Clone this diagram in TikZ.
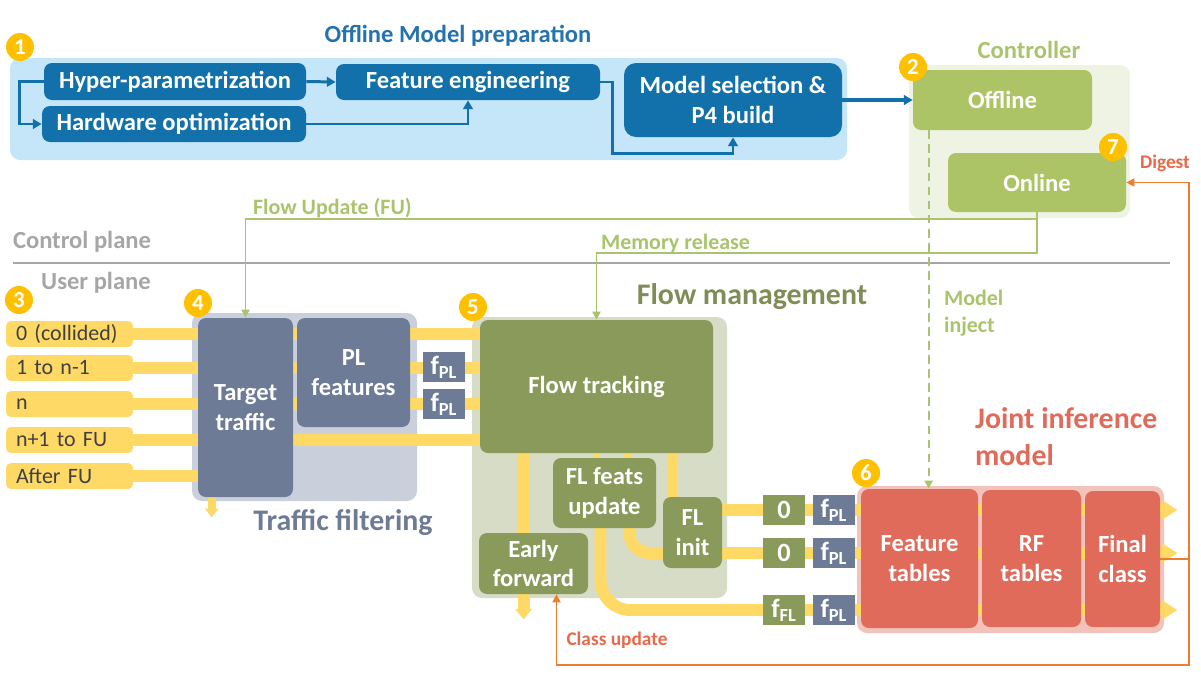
\documentclass[tikz,border=0pt]{standalone}
\usepackage{fontspec}
\setmainfont{Carlito}
\usetikzlibrary{arrows.meta,calc}

\definecolor{darkblue}{HTML}{1271AB}
\definecolor{lightblue}{HTML}{C5E6F8}
\definecolor{titleblue}{HTML}{2472AE}
\definecolor{badgegold}{HTML}{FFC000}
\definecolor{ctrlgreen}{HTML}{ADC466}
\definecolor{ctrlbg}{HTML}{EEF3E3}
\definecolor{ctrltext}{HTML}{A9C46C}
\definecolor{planegray}{HTML}{A6A6A6}
\definecolor{flowyellow}{HTML}{FFD966}
\definecolor{inputtext}{HTML}{404040}
\definecolor{slate}{HTML}{6D7B97}
\definecolor{slatebg}{HTML}{C9D0DC}
\definecolor{olive}{HTML}{8A9A5B}
\definecolor{olivebg}{HTML}{D7DCC7}
\definecolor{olivetext}{HTML}{7F8C55}
\definecolor{coral}{HTML}{E06B5A}
\definecolor{coralbg}{HTML}{F2C3BB}
\definecolor{orangeline}{HTML}{ED7D31}
\definecolor{orangetext}{HTML}{E8694A}

\pgfdeclarelayer{bg}
\pgfdeclarelayer{flows}
\pgfsetlayers{bg,flows,main}

\tikzset{
  wh/.style 2 args={minimum width=#1*0.02cm, minimum height=#2*0.02cm},
  block/.style={rounded corners=0.16cm, inner sep=0pt, align=center, text=white,
    font=\fontsize{14}{17}\selectfont\bfseries},
  bluebox/.style={block, fill=darkblue},
  greenbox/.style={block, fill=ctrlgreen},
  slatebox/.style={block, fill=slate},
  olivebox/.style={block, fill=olive},
  coralbox/.style={block, fill=coral},
  panel/.style={rounded corners=0.2cm, inner sep=0pt},
  inbox/.style={fill=flowyellow, rounded corners=0.1cm, text=inputtext, align=left,
    text width=2.14cm, inner xsep=0.2cm, minimum height=0.52cm, inner ysep=0pt,
    font=\fontsize{12.5}{15}\selectfont},
  tag/.style={inner sep=0pt, wh={42}{30}, text=white, font=\fontsize{15}{15}\selectfont\bfseries},
  badge/.style={circle, fill=badgegold, text=white, inner sep=0pt, minimum size=0.56cm,
    font=\fontsize{13}{13}\selectfont\bfseries},
  title/.style={inner sep=1pt, font=\fontsize{14}{17}\selectfont\bfseries},
  sectiontext/.style={inner sep=1pt, font=\fontsize{17}{21}\selectfont\bfseries},
  planetext/.style={inner sep=1pt, text=planegray, font=\fontsize{14}{17}\selectfont\bfseries},
  lbl/.style={inner sep=1pt, font=\fontsize{12.5}{15}\selectfont\bfseries},
  smalllbl/.style={inner sep=1pt, text=orangetext, font=\fontsize{11}{13}\selectfont\bfseries},
  flow/.style={draw=flowyellow, line width=6.8pt},
  thinflow/.style={draw=flowyellow, line width=4.5pt, -{Triangle[width=7.5pt,length=5pt]}},
  flowtip/.style={-{Triangle[width=11pt,length=9pt]}},
  blueline/.style={draw=darkblue, line width=1.7pt, -{Triangle[width=5.5pt,length=5pt]}},
  ctrlline/.style={draw=ctrltext, line width=1.1pt, -{Triangle[width=4.5pt,length=4.5pt]}},
  injectline/.style={draw=ctrltext, line width=1.1pt, dash pattern=on 5pt off 3pt,
    -{Triangle[width=4.5pt,length=4.5pt]}},
  digestline/.style={draw=orangeline, line width=1.1pt, -{Triangle[width=4.5pt,length=4.5pt]}},
  planeline/.style={draw=planegray, line width=1.7pt}
}

\begin{document}
\begin{tikzpicture}[x=0.02cm, y=-0.02cm]
\useasboundingbox (0,0) rectangle (1201,680);

% offline model preparation
\node[title, text=titleblue] (offtitle) at (458,36) {Offline Model preparation};
\node[bluebox, wh={262}{37}] (hyper) at (175,81.5) {Hyper-parametrization};
\node[bluebox, wh={264}{36}] (hw) at (174,124) {Hardware optimization};
\node[bluebox, wh={264}{36}] (feat) at (468,82) {Feature engineering};
\node[bluebox, wh={218}{74}, rounded corners=0.24cm] (model) at (733,100) {Model selection \&\\P4 build};

% controller
\node[title, text=ctrltext] (ctrltitle) at (1029,50) {Controller};
\node[greenbox, wh={179}{60}] (offline) at (1002.5,100) {Offline};
\node[greenbox, wh={178}{59}] (online) at (1037,182.5) {Online};

% planes
\node[planetext] (cplane) at (82,242) {Control plane};
\node[planetext] (uplane) at (96,283) {User plane};
\draw[planeline] (13,263) -- (1170,263);

% inputs
\foreach \name/\txt/\y in {in0/{0 (collided)}/334, in1/{1 to n-1}/368, in2/n/404, in3/{n+1 to FU}/440, in4/{After FU}/476}
  \node[inbox] (\name) at (69.5,\y) {\txt};

% traffic filtering
\node[slatebox, wh={95}{179}] (target) at (245.5,407.5) {Target\\traffic};
\node[slatebox, wh={113}{109}] (plfeat) at (353.5,372.5) {PL\\features};
\node[tag, fill=slate] (fplA) at (444,367) {f\textsubscript{PL}};
\node[tag, fill=slate] (fplB) at (444,404) {f\textsubscript{PL}};
\node[sectiontext, text=slate] (tftitle) at (343,523) {Traffic filtering};

% flow management
\node[olivebox, wh={233}{133}] (ftrack) at (596.5,386.5) {Flow tracking};
\node[olivebox, wh={103}{70}] (flfeats) at (604.5,493) {FL feats\\update};
\node[olivebox, wh={59}{71}] (flinit) at (692.5,532.5) {FL\\init};
\node[olivebox, wh={109}{61}] (early) at (533.5,563.5) {Early\\forward};
\node[sectiontext, text=olivetext] (fmtitle) at (752,297) {Flow management};

% joint inference model
\node[tag, fill=olive] (zeroA) at (784,510) {0};
\node[tag, fill=slate] (fplC) at (834,510) {f\textsubscript{PL}};
\node[tag, fill=olive] (zeroB) at (784,553) {0};
\node[tag, fill=slate] (fplD) at (834,553) {f\textsubscript{PL}};
\node[tag, fill=olive] (ffl) at (784,610) {f\textsubscript{FL}};
\node[tag, fill=slate] (fplE) at (834,610) {f\textsubscript{PL}};
\node[coralbox, wh={117}{139}] (ftab) at (919.5,558.5) {Feature\\tables};
\node[coralbox, wh={99}{137}] (rftab) at (1031.5,558.5) {RF\\tables};
\node[coralbox, wh={75}{136}] (final) at (1122.5,559) {Final\\class};
\node[sectiontext, text=coral, align=left, anchor=west] (jititle) at (973,437) {Joint inference\\model};

% panels
\begin{pgfonlayer}{bg}
\node[panel, fill=lightblue, wh={837}{102}] (offpanel) at (428.5,109) {};
\node[panel, fill=ctrlbg, wh={221}{153}] (ctrlpanel) at (1019.5,141.5) {};
\node[panel, fill=slatebg, wh={225}{188}] (tfpanel) at (304.5,407) {};
\node[panel, fill=olivebg, wh={255}{281}] (fmpanel) at (599.5,457.5) {};
\node[panel, fill=coralbg, wh={307}{147}] (jipanel) at (1010.5,559.5) {};
\end{pgfonlayer}

% packet flows
\begin{pgfonlayer}{flows}
\draw[flow] (in0.east) -- (in0.east -| ftrack.west);
\draw[flow] (in1.east) -- (in1.east -| ftrack.west);
\draw[flow] (in2.east) -- (in2.east -| ftrack.west);
\draw[flow] (in3.east) -- (in3.east -| ftrack.west);
\draw[flow] (in4.east) -- (in4.east -| target.west);
\draw[thinflow] ($(target.south west)+(14,-5)$) -- ++(0,25);
\draw[flow, -{Triangle[width=9.5pt,length=6pt]}] ($(ftrack.south west)+(44,-5)$) -- ($(early.south west)+(45,25)$);
\draw[draw=flowyellow, line width=4.5pt] ($(flfeats.north)+(-8,0)$) -- ++(0,-10);
\draw[draw=flowyellow, line width=4.5pt] ($(flfeats.north)+(23,0)$) -- ++(0,-10);
\coordinate (outA) at ($(final.east |- zeroA.east)+(17,0)$);
\coordinate (outB) at ($(final.east |- zeroB.east)+(17,0)$);
\coordinate (outC) at ($(final.east |- ffl.east)+(17,0)$);
\draw[flow, flowtip] ($(flinit.north)+(-20,-50)$) |- (outA);
\draw[flow, flowtip, rounded corners=0.4cm] ($(flfeats.south)+(25,-10)$) |- (outB);
\draw[flow, flowtip, rounded corners=0.6cm] ($(flfeats.south)+(-4,-10)$) |- (outC);
\end{pgfonlayer}

% offline connectors
\draw[blueline] (hyper.west) -- ++(-24,0) |- (hw.west);
\draw[blueline] (hyper.east) -- (feat.west);
\draw[blueline] (hw.east) -| (feat.south);
\draw[blueline] (feat.east) -- ++(12,0) |- ($(model.south)+(0,16)$) -- (model.south);
\draw[blueline, line width=2.3pt] (model.east) -- (offline.west);

% controller connectors
\coordinate (inject) at ($(offline.south west)+(16,0)$);
\draw[injectline] (inject) -- (inject |- ftab.north);
\node[lbl, text=ctrltext, anchor=west, align=left] (injlbl) at (942,313) {Model\\inject};
\draw[ctrlline] (online.south) -- ++(0,7) -| (target.north);
\node[lbl, text=ctrltext, anchor=base west] (fulbl) at (251,214) {Flow Update (FU)};
\draw[ctrlline] (online.south) -- ++(0,41) -| (ftrack.north);
\node[lbl, text=ctrltext, anchor=base west] (mrlbl) at (599,249) {Memory release};

% feedback
\draw[digestline] (final.east) -- ++(29,0) |- (online.east);
\coordinate (cu) at ($(early.south)+(23,0)$);
\draw[digestline] (final.east) -- ++(29,0) -- ++(0,106) -| (cu);
\node[smalllbl] (diglbl) at (1165,163) {Digest};
\node[smalllbl] (culbl) at (617,640) {Class update};

% step badges
\foreach \name/\num/\x/\y in {b1/1/20/47, b2/2/913/67, b3/3/19/300, b4/4/198/303, b5/5/473/307, b6/6/866/473, b7/7/1113/147}
  \node[badge] (\name) at (\x,\y) {\num};
\end{tikzpicture}
\end{document}
